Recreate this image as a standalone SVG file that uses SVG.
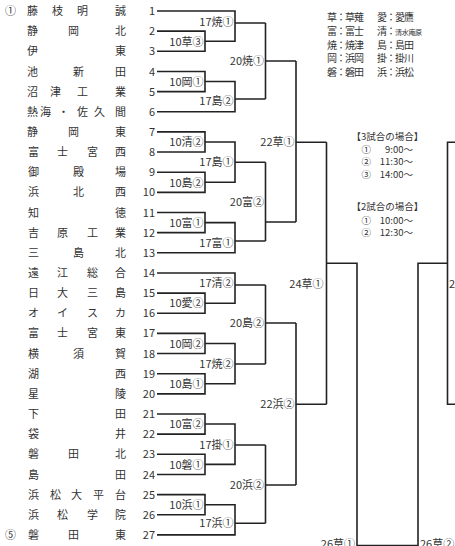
<svg xmlns="http://www.w3.org/2000/svg" width="455" height="546" viewBox="0 0 455 546">
<style>
text{font-family:"Noto Sans CJK JP","Noto Sans CJK SC",sans-serif;fill:#333;}
.n{font-size:11px;}
.num{font-size:11px;text-anchor:end;}
.lb{font-size:11px;text-anchor:end;}
.lg{font-size:10px;letter-spacing:-1px;}
.sc{font-size:9.5px;}
.con{fill:none;stroke:#222;stroke-width:1.6;}
</style>
<rect width="455" height="546" fill="#fff"/>
<g id="connectors" class="con">
<path d="M157 11H235V41.2H205M157 31.15H205V51.3H157M235 23H265.5M157 71.45H205V91.6H157M205 81.5H235V111.75H157M235 99H265.5M265.5 23V99M265.5 61H296M157 131.9H205V152.05H157M157 172.2H205V192.35H157M205 142H235V182.3H205M235 162.3H265.5M157 212.5H205V232.65H157M205 222.6H235V252.8H157M235 241H265.5M265.5 162.3V241M265.5 222H296M296 61V222M296 142.3H326.5"/>
<path d="M157 272.95H235V303.2H205M157 293.1H205V313.25H157M235 285H265.5M157 333.4H205V353.55H157M157 373.7H205V393.85H157M205 343.5H235V383.8H205M235 364H265.5M265.5 285V364M265.5 323H296M157 414H205V434.15H157M157 454.3H205V474.45H157M205 424H235V464.4H205M235 445H265.5M157 494.6H205V514.75H157M205 504.7H235V534.9H157M235 523.3H265.5M265.5 445V523.3M265.5 485H296M296 323V485M296 404.3H326.5"/>
<path d="M326.5 142.3V404.3M326.5 263.3H357V545.5H418V263.3H447.5M456 142.3H447.5V404.3H456"/>
</g>
<g id="seeds">
<text class="n" x="5" y="15">①</text>
<text class="n" x="5" y="539">⑤</text>
</g>
<g id="team-1"><text class="n" x="27 52 77 115" y="15">藤枝明誠</text><text class="num" x="155" y="15">1</text></g>
<g id="team-2"><text class="n" x="27 68 115" y="35.2">静岡北</text><text class="num" x="155" y="35.2">2</text></g>
<g id="team-3"><text class="n" x="27 115" y="55.3">伊東</text><text class="num" x="155" y="55.3">3</text></g>
<g id="team-4"><text class="n" x="27 73 115" y="75.5">池新田</text><text class="num" x="155" y="75.5">4</text></g>
<g id="team-5"><text class="n" x="27 50 77 115" y="95.6">沼津工業</text><text class="num" x="155" y="95.6">5</text></g>
<g id="team-6"><text class="n" x="27 40 58 77 94 115" y="115.8">熱海・佐久間</text><text class="num" x="155" y="115.8">6</text></g>
<g id="team-7"><text class="n" x="27 68 115" y="135.9">静岡東</text><text class="num" x="155" y="135.9">7</text></g>
<g id="team-8"><text class="n" x="28 57 87 115" y="156.1">富士宮西</text><text class="num" x="155" y="156.1">8</text></g>
<g id="team-9"><text class="n" x="28 73 115" y="176.2">御殿場</text><text class="num" x="155" y="176.2">9</text></g>
<g id="team-10"><text class="n" x="28 73 115" y="196.4">浜北西</text><text class="num" x="155" y="196.4">10</text></g>
<g id="team-11"><text class="n" x="28 115" y="216.5">知徳</text><text class="num" x="155" y="216.5">11</text></g>
<g id="team-12"><text class="n" x="28 57 87 115" y="236.7">吉原工業</text><text class="num" x="155" y="236.7">12</text></g>
<g id="team-13"><text class="n" x="28 73 115" y="256.8">三島北</text><text class="num" x="155" y="256.8">13</text></g>
<g id="team-14"><text class="n" x="28 57 87 115" y="277">遠江総合</text><text class="num" x="155" y="277">14</text></g>
<g id="team-15"><text class="n" x="28 57 87 115" y="297.1">日大三島</text><text class="num" x="155" y="297.1">15</text></g>
<g id="team-16"><text class="n" x="28 57 87 115" y="317.3">オイスカ</text><text class="num" x="155" y="317.3">16</text></g>
<g id="team-17"><text class="n" x="28 57 87 115" y="337.4">富士宮東</text><text class="num" x="155" y="337.4">17</text></g>
<g id="team-18"><text class="n" x="28 73 115" y="357.6">横須賀</text><text class="num" x="155" y="357.6">18</text></g>
<g id="team-19"><text class="n" x="28 115" y="377.7">湖西</text><text class="num" x="155" y="377.7">19</text></g>
<g id="team-20"><text class="n" x="28 115" y="397.9">星陵</text><text class="num" x="155" y="397.9">20</text></g>
<g id="team-21"><text class="n" x="28 115" y="418">下田</text><text class="num" x="155" y="418">21</text></g>
<g id="team-22"><text class="n" x="28 115" y="438.2">袋井</text><text class="num" x="155" y="438.2">22</text></g>
<g id="team-23"><text class="n" x="28 68 115" y="458.3">磐田北</text><text class="num" x="155" y="458.3">23</text></g>
<g id="team-24"><text class="n" x="28 115" y="478.5">島田</text><text class="num" x="155" y="478.5">24</text></g>
<g id="team-25"><text class="n" x="28 50 71 93 115" y="498.6">浜松大平台</text><text class="num" x="155" y="498.6">25</text></g>
<g id="team-26"><text class="n" x="28 57 87 115" y="518.8">浜松学院</text><text class="num" x="155" y="518.8">26</text></g>
<g id="team-27"><text class="n" x="28 68 115" y="538.9">磐田東</text><text class="num" x="155" y="538.9">27</text></g>
<g id="r1">
<g id="m10-1"><text class="lb" x="203.5" y="45.5">10草③</text></g>
<g id="m10-2"><text class="lb" x="203.5" y="85.5">10岡①</text></g>
<g id="m10-3"><text class="lb" x="203.5" y="146">10清②</text></g>
<g id="m10-4"><text class="lb" x="203.5" y="186.5">10島②</text></g>
<g id="m10-5"><text class="lb" x="203.5" y="226.6">10富①</text></g>
<g id="m10-6"><text class="lb" x="203.5" y="307.2">10愛②</text></g>
<g id="m10-7"><text class="lb" x="203.5" y="347.5">10岡②</text></g>
<g id="m10-8"><text class="lb" x="203.5" y="387.8">10島①</text></g>
<g id="m10-9"><text class="lb" x="203.5" y="428">10富②</text></g>
<g id="m10-10"><text class="lb" x="203.5" y="468.5">10磐①</text></g>
<g id="m10-11"><text class="lb" x="203.5" y="508.7">10浜①</text></g>
</g>
<g id="r2">
<g id="m17-1"><text class="lb" x="233.5" y="26">17焼①</text></g>
<g id="m17-2"><text class="lb" x="233.5" y="105">17島②</text></g>
<g id="m17-3"><text class="lb" x="233.5" y="166.3">17島①</text></g>
<g id="m17-4"><text class="lb" x="233.5" y="246.7">17富①</text></g>
<g id="m17-5"><text class="lb" x="233.5" y="287.3">17清②</text></g>
<g id="m17-6"><text class="lb" x="233.5" y="368">17焼②</text></g>
<g id="m17-7"><text class="lb" x="233.5" y="449">17掛①</text></g>
<g id="m17-8"><text class="lb" x="233.5" y="527.3">17浜①</text></g>
</g>
<g id="r3">
<g id="m20-1"><text class="lb" x="264" y="65">20焼①</text></g>
<g id="m20-2"><text class="lb" x="264" y="206">20富②</text></g>
<g id="m20-3"><text class="lb" x="264" y="327">20島②</text></g>
<g id="m20-4"><text class="lb" x="264" y="489">20浜②</text></g>
</g>
<g id="r4">
<g id="m22-1"><text class="lb" x="294.5" y="146.3">22草①</text></g>
<g id="m22-2"><text class="lb" x="294.5" y="408.3">22浜②</text></g>
</g>
<g id="r5">
<g id="m24-1"><text class="lb" x="323.5" y="288">24草①</text></g>
<g id="m24-2"><text class="n" x="449" y="288">2</text></g>
</g>
<g id="final">
<g id="m26-1"><text class="lb" x="355" y="548">26草①</text></g>
<g id="m26-2"><text class="n" x="420" y="548">26草②</text></g>
</g>
<g id="legend">
<text class="lg" x="327" y="21">草：草薙</text><text class="lg" x="377" y="21">愛：愛鷹</text>
<text class="lg" x="327" y="35">富：富士</text><text class="lg" x="377" y="35">清：<tspan font-size="7" letter-spacing="-0.3">清水庵原</tspan></text>
<text class="lg" x="327" y="48.5">焼：焼津</text><text class="lg" x="377" y="48.5">島：島田</text>
<text class="lg" x="327" y="62">岡：浜岡</text><text class="lg" x="377" y="62">掛：掛川</text>
<text class="lg" x="327" y="75.5">磐：磐田</text><text class="lg" x="377" y="75.5">浜：浜松</text>
</g>
<g id="schedule">
<text class="sc" x="351.5" y="139.5">【3試合の場合】</text>
<text class="sc" x="361.5" y="152.5">①</text><text class="sc" x="413" y="152.5" text-anchor="end">9:00～</text>
<text class="sc" x="361.5" y="165">②</text><text class="sc" x="413" y="165" text-anchor="end">11:30～</text>
<text class="sc" x="361.5" y="177.5">③</text><text class="sc" x="413" y="177.5" text-anchor="end">14:00～</text>
<text class="sc" x="351.5" y="210">【2試合の場合】</text>
<text class="sc" x="361.5" y="223.5">①</text><text class="sc" x="413" y="223.5" text-anchor="end">10:00～</text>
<text class="sc" x="361.5" y="236">②</text><text class="sc" x="413" y="236" text-anchor="end">12:30～</text>
</g>
</svg>
